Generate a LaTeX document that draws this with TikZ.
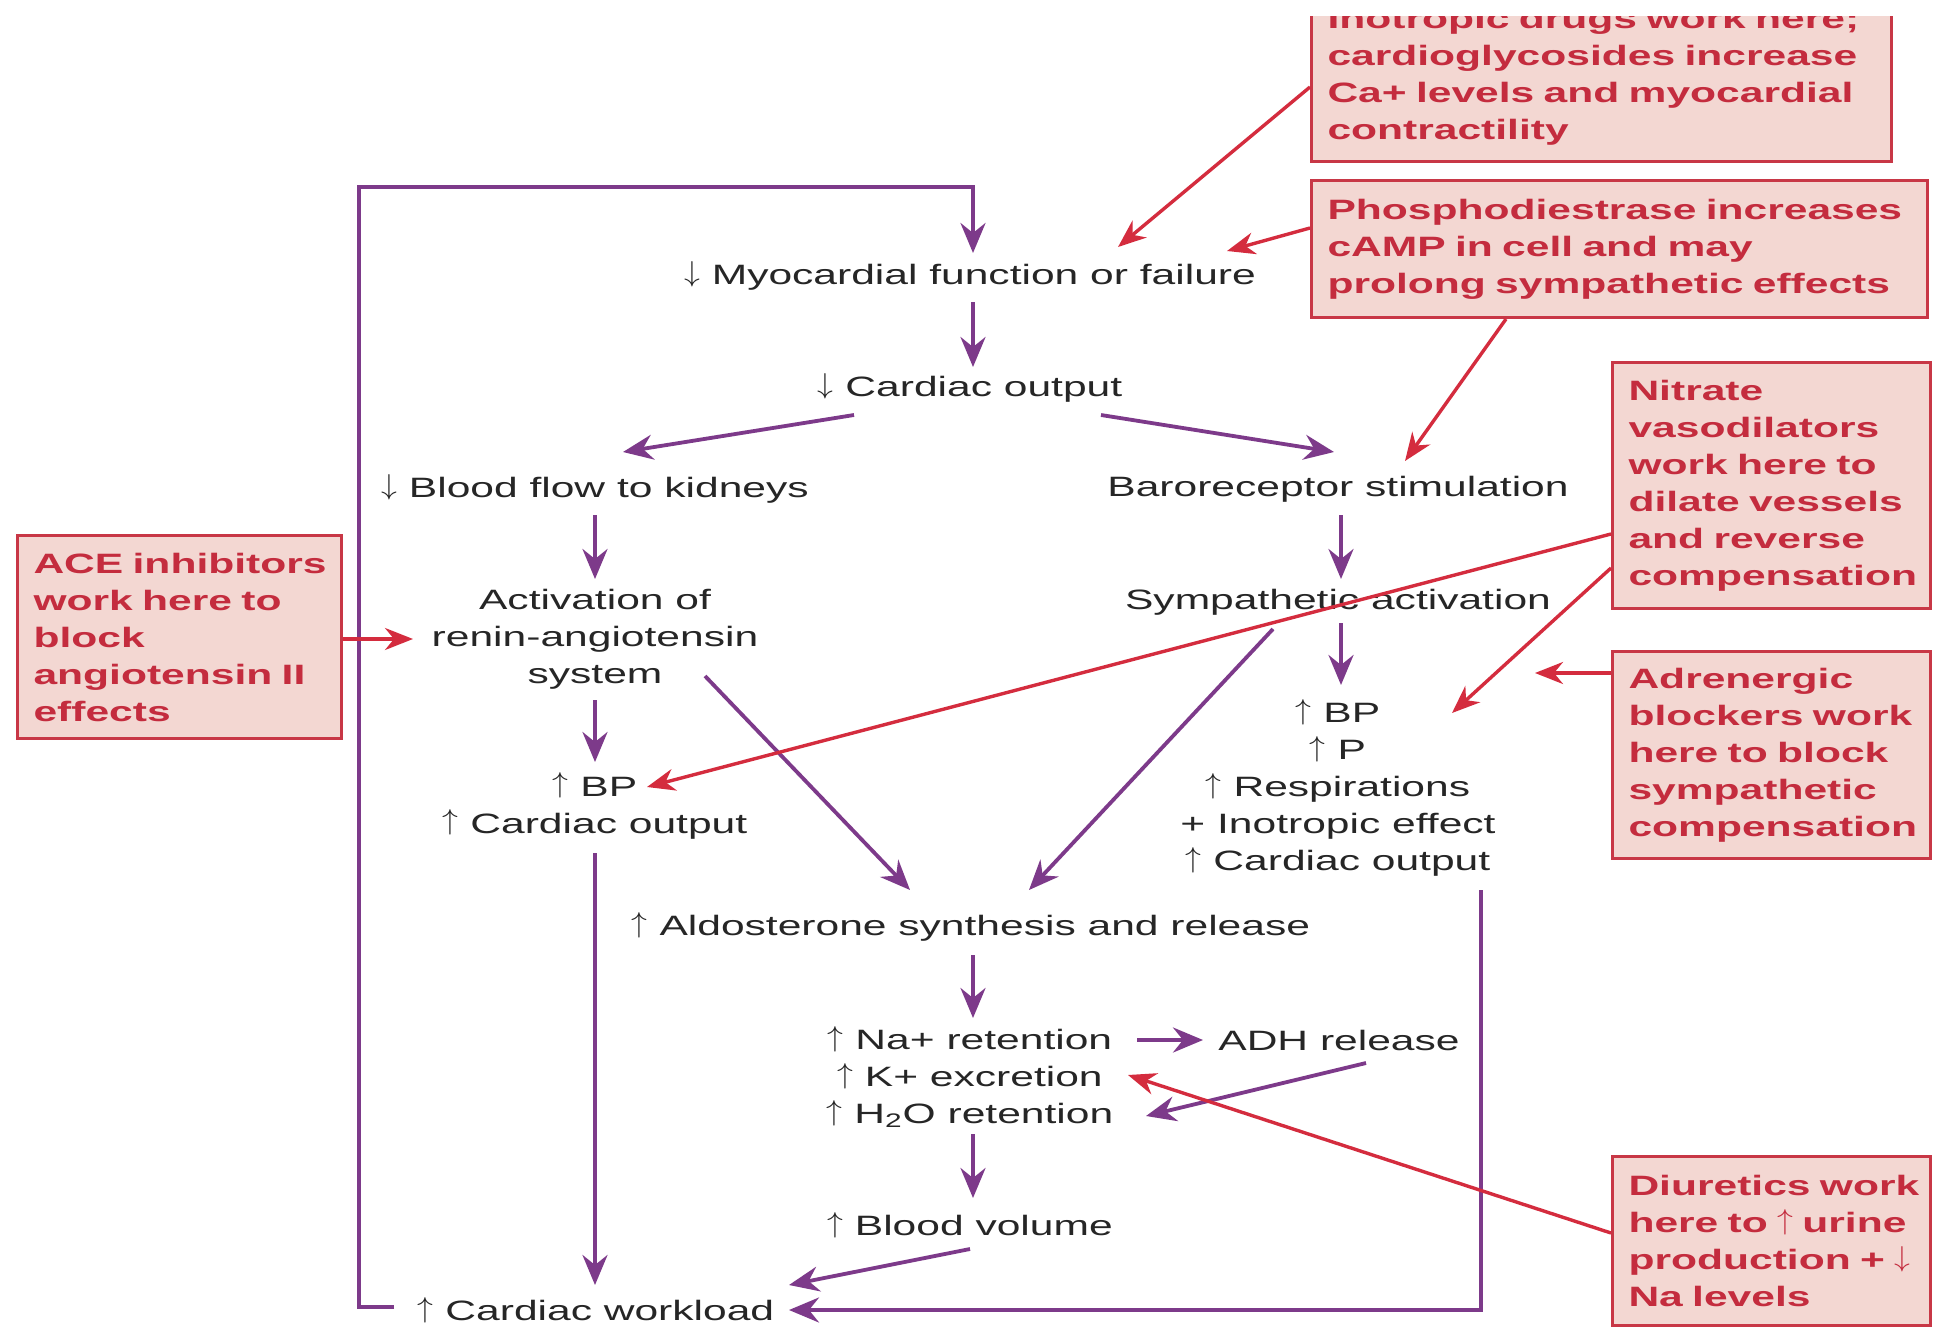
\documentclass[tikz,border=0pt]{standalone}
\usepackage{fontspec}
\usepackage{graphicx}
\setmainfont{Liberation Sans}[FakeStretch=1.52]
\usetikzlibrary{arrows.meta,calc}
\definecolor{pur}{RGB}{125,58,138}
\definecolor{redl}{RGB}{212,44,62}
\definecolor{boxfill}{RGB}{243,215,210}
\definecolor{boxdraw}{RGB}{200,55,70}
\definecolor{boxtext}{RGB}{196,44,62}
\definecolor{txt}{RGB}{38,38,38}
\newcommand\upar{\raisebox{0.12em}{\scalebox{1.1}[1.0]{$\uparrow$}}}
\newcommand\dnar{\raisebox{0.12em}{\scalebox{1.1}[1.0]{$\downarrow$}}}
\begin{document}
\begin{tikzpicture}[x=0.5pt,y=-0.5pt,
  lbl/.style={inner sep=0pt, align=center, text=txt, font=\fontsize{14}{18.5}\selectfont},
  parr/.style={draw=pur, line width=1.9pt, -{Stealth[length=15pt,width=12.5pt,inset=5pt]}},
  rarr/.style={draw=redl, line width=1.7pt, -{Stealth[length=14pt,width=11pt,inset=4.5pt]}},
  note/.style={draw=boxdraw, fill=boxfill, line width=1.5pt, anchor=north west, inner xsep=8pt, inner ysep=0pt, align=left, text=boxtext, font=\fontsize{14}{18.5}\selectfont\bfseries},
]
\useasboundingbox[fill=white] (0,0) rectangle (1933,1327);

% main flow nodes
\node[lbl] (myo) at (970,276) {\dnar\ Myocardial function or failure};
\node[lbl] (co) at (970,388) {\dnar\ Cardiac output};
\node[lbl] (bf) at (595,489) {\dnar\ Blood flow to kidneys};
\node[lbl] (baro) at (1338,489) {Baroreceptor stimulation};
\node[lbl] (ras) at (595,639) {Activation of\\renin-angiotensin\\system};
\node[lbl] (symp) at (1338,602) {Sympathetic activation};
\node[lbl] (rbp) at (1338,788) {\upar\ BP\\\upar\ P\\\upar\ Respirations\\+ Inotropic effect\\\upar\ Cardiac output};
\node[lbl] (lbp) at (595,806) {\upar\ BP\\\upar\ Cardiac output};
\node[lbl] (aldo) at (971,927) {\upar\ Aldosterone synthesis and release};
\node[lbl] (na) at (970,1077) {\upar\ Na+ retention\\\upar\ K+ excretion\\\upar\ H\textsubscript{2}O retention};
\node[lbl] (adh) at (1339,1040) {ADH release};
\node[lbl] (bv) at (970,1225) {\upar\ Blood volume};
\node[lbl] (cw) at (596,1310) {\upar\ Cardiac workload};

% annotation boxes
\begin{scope}
\clip (0,17) rectangle (1933,1327);
\node[note, minimum width=290pt, minimum height=85pt, text width=274pt] (ino) at (1310,-10)
  {\mbox{Inotropic drugs work here;}\\\mbox{cardioglycosides increase}\\\mbox{Ca+ levels and myocardial}\\\mbox{contractility}};
\end{scope}
\node[note, minimum width=308pt, minimum height=68.5pt, text width=292pt] (pde) at (1310,179)
  {\mbox{Phosphodiestrase increases}\\\mbox{cAMP in cell and may}\\\mbox{prolong sympathetic effects}};
\node[note, minimum width=159pt, minimum height=123pt, text width=143pt] (nit) at (1611,361)
  {\mbox{Nitrate}\\\mbox{vasodilators}\\\mbox{work here to}\\\mbox{dilate vessels}\\\mbox{and reverse}\\\mbox{compensation}};
\node[note, minimum width=159pt, minimum height=103.5pt, text width=143pt] (adr) at (1611,650)
  {\mbox{Adrenergic}\\\mbox{blockers work}\\\mbox{here to block}\\\mbox{sympathetic}\\\mbox{compensation}};
\node[note, minimum width=159pt, minimum height=84.5pt, text width=143pt] (diu) at (1611,1155)
  {\mbox{Diuretics work}\\\mbox{here to \upar\ urine}\\\mbox{production + \dnar}\\\mbox{Na levels}};
\node[note, minimum width=162pt, minimum height=101.5pt, text width=146pt] (ace) at (16,534)
  {\mbox{ACE inhibitors}\\\mbox{work here to}\\\mbox{block}\\\mbox{angiotensin II}\\\mbox{effects}};

% purple connectors
\draw[parr] ($(cw.center)+(-202,-3)$) -- ++(-35,0) |- ($(myo.center)+(3,-89)$) -- ($(myo.center)+(3,-23)$);
\draw[parr] ($(myo.center)+(3,26)$) -- ($(co.center)+(3,-21)$);
\draw[parr] ($(co.center)+(-116,27)$) -- ($(bf.center)+(28,-37)$);
\draw[parr] ($(co.center)+(131,27)$) -- ($(baro.center)+(-4,-37)$);
\draw[parr] ($(bf.center)+(0,26)$) -- ($(ras.center)+(0,-60)$);
\draw[parr] ($(baro.center)+(3,26)$) -- ($(symp.center)+(3,-23)$);
\draw[parr] ($(ras.center)+(0,61)$) -- ($(lbp.center)+(0,-44)$);
\draw[parr] ($(ras.center)+(110,37)$) -- ($(aldo.center)+(-61,-37)$);
\draw[parr] ($(symp.center)+(-65,27)$) -- ($(aldo.center)+(58,-37)$);
\draw[parr] ($(symp.center)+(3,21)$) -- ($(rbp.center)+(3,-103)$);
\draw[parr] ($(lbp.center)+(0,47)$) -- ($(cw.center)+(-1,-25)$);
\draw[parr] ($(rbp.center)+(143,102)$) |- ($(cw.center)+(193,0)$);
\draw[parr] ($(aldo.center)+(2,28)$) -- ($(na.center)+(3,-59)$);
\draw[parr] ($(na.center)+(167,-37)$) -- ($(adh.center)+(-136,0)$);
\draw[parr] ($(adh.center)+(27,23)$) -- ($(na.center)+(176,39)$);
\draw[parr] ($(na.center)+(3,57)$) -- ($(bv.center)+(3,-27)$);
\draw[parr] ($(bv.center)+(0,24)$) -- ($(cw.center)+(193,-25)$);

% red connectors
\draw[rarr] ($(ino.south west)+(0,-76)$) -- ($(myo.center)+(148,-29)$);
\draw[rarr] ($(pde.north west)+(0,49)$) -- ($(myo.center)+(257,-25)$);
\draw[rarr] ($(pde.south west)+(196,0)$) -- ($(baro.center)+(67,-28)$);
\draw[rarr] ($(ace.north east)+(0,105)$) -- ($(ras.center)+(-182,0)$);
\draw[rarr] ($(nit.north west)+(0,173)$) -- ($(lbp.center)+(52,-19)$);
\draw[rarr] ($(nit.north west)+(0,207)$) -- ($(rbp.center)+(114,-75)$);
\draw[rarr] ($(adr.north west)+(0,23)$) -- ($(rbp.center)+(197,-115)$);
\draw[rarr] ($(diu.north west)+(0,78)$) -- ($(na.center)+(158,-2)$);
\end{tikzpicture}
\end{document}
